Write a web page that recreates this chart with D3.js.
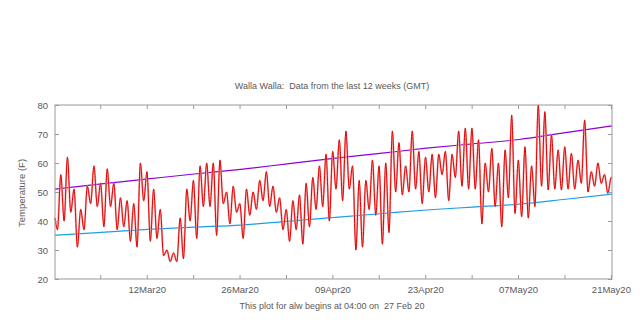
<!DOCTYPE html>
<html><head><meta charset="utf-8">
<script src="https://cdn.jsdelivr.net/npm/d3@7/dist/d3.min.js"></script>
<style>
html,body{margin:0;padding:0;background:#fff;}
svg text{font-family:"Liberation Sans",Arial,sans-serif;fill:#5a5a5a;white-space:pre;}
</style></head>
<body>
<svg id="c" width="640" height="333"></svg>
<script>
// ---- data ----
const titleText = "Walla Walla:  Data from the last 12 weeks (GMT)";
const footText = "This plot for alw begins at 04:00 on  27 Feb 20";
const yLabel = "Temperature (F)";
const yTicks = [20, 30, 40, 50, 60, 70, 80];
const xTickLabels = ["12Mar20", "26Mar20", "09Apr20", "23Apr20", "07May20", "21May20"];
const firstReading = 41;
// [overnight low (~13 GMT), afternoon high (~01 GMT next)] per day from 27 Feb
const dailyLowHigh = [
  [37,56],[40,62],[43,51],[31,44],[37,52],[46,59],[45,53],[38,58],[45,53],[37,48],
  [38,47],[33,46],[31,60],[47,57],[33,51],[34,44],[28,30],[26,29],[26,41],[27,51],
  [40,54],[34,59],[45,60],[45,60],[35,61],[46,50],[39,52],[43,46],[34,51],[42,50],
  [44,54],[47,57],[45,52],[43,48],[37,44],[33,47],[37,49],[32,53],[38,55],[44,59],
  [45,63],[40,64],[51,68],[47,71],[51,59],[30,54],[31,54],[44,61],[42,59],[32,60],
  [36,71],[50,67],[49,59],[50,71],[51,64],[46,62],[50,63],[48,63],[56,64],[47,63],
  [55,71],[52,72],[51,72],[51,68],[39,60],[50,65],[45,60],[38,64.5],[48,76.5],[42.6,61],
  [41.5,65.6],[41,59],[45,80],[52,77.7],[50.7,69.7],[51,64.5],[50.7,65.6],[51,63.3],[51,61],[53,74.8],
  [50,57],[52,60],[53,56],[49.5,55]
];
const lastReading = 55;
// weekly normals from 27 Feb
const normalHigh = [51.0, 52.8, 54.5, 56.2, 57.8, 59.7, 61.6, 63.3, 65.1, 66.6, 68.1, 70.5, 72.8];
const normalLow  = [35.1, 36.1, 37.1, 37.9, 38.6, 39.9, 41.2, 42.5, 43.8, 44.8, 45.8, 47.5, 49.3];

// ---- build ----
const start = new Date(Date.UTC(2020, 1, 27, 4, 0));
const end = new Date(Date.UTC(2020, 4, 21, 4, 0));
const H = 3600 * 1000;
const series = [{t: start, v: firstReading}];
dailyLowHigh.forEach((p, d) => {
  series.push({t: new Date(+start + (d * 24 + 9) * H), v: p[0]});
  series.push({t: new Date(+start + (d * 24 + 21) * H), v: p[1]});
});
series.push({t: end, v: lastReading});
const nh = normalHigh.map((v, i) => ({t: new Date(+start + i * 7 * 24 * H), v}));
const nl = normalLow.map((v, i) => ({t: new Date(+start + i * 7 * 24 * H), v}));

const L = 55, R = 612, T = 105, B = 279;
const svg = d3.select("#c");
const x = d3.scaleUtc().domain([start, end]).range([L, R]);
const y = d3.scaleLinear().domain([20, 80]).range([B, T]);

const smooth = d3.line().x(d => x(d.t)).y(d => y(d.v)).curve(d3.curveMonotoneX);

const g = svg.append("g");
// normals
g.append("path").datum(nh).attr("d", smooth).attr("fill", "none").attr("stroke", "#8f00d6").attr("stroke-width", 1.2);
g.append("path").datum(nl).attr("d", smooth).attr("fill", "none").attr("stroke", "#1a9fe6").attr("stroke-width", 1.2);
// temps
g.append("path").datum(series).attr("d", smooth).attr("fill", "none").attr("stroke", "#f5b0b0").attr("stroke-width", 2.0);
g.append("path").datum(series).attr("d", smooth).attr("fill", "none").attr("stroke", "#e30000").attr("stroke-width", 1.0);

// axes
const xt = d3.utcThursday.range(d3.utcDay.ceil(start), new Date(+end + 1));
const fmt = d3.utcFormat("%d%b%y");
const axB = d3.axisBottom(x).tickValues(xt).tickSize(-4).tickPadding(7)
  .tickFormat(d => xTickLabels.includes(fmt(d)) ? fmt(d) : "");
const axT = d3.axisTop(x).tickValues(xt).tickSize(-4).tickFormat("");
const axL = d3.axisLeft(y).tickValues(yTicks).tickSize(-4).tickPadding(7);
const axR = d3.axisRight(y).tickValues(yTicks).tickSize(-4).tickFormat("");
function style(sel) {
  sel.select(".domain").remove();
  sel.selectAll(".tick line").attr("stroke", "#999");
  sel.selectAll(".tick text").style("font-size", "9.5px").style("fill", "#5a5a5a").attr("font-family", null);
}
svg.append("g").attr("transform", `translate(0,${B})`).call(axB).call(style);
svg.append("g").attr("transform", `translate(0,${T})`).call(axT).call(style);
svg.append("g").attr("transform", `translate(${L},0)`).call(axL).call(style);
svg.append("g").attr("transform", `translate(${R},0)`).call(axR).call(style);
svg.append("rect").attr("x", L).attr("y", T).attr("width", R - L).attr("height", B - T)
  .attr("fill", "none").attr("stroke", "#999").attr("stroke-width", 1);

svg.append("text").attr("x", 332).attr("y", 89).attr("text-anchor", "middle").style("font-size", "9px").text(titleText);
svg.append("text").attr("x", 332).attr("y", 309).attr("text-anchor", "middle").style("font-size", "9px").text(footText);
svg.append("text").attr("transform", "translate(25,193) rotate(-90)").attr("text-anchor", "middle").style("font-size", "9.5px").text(yLabel);
</script>
</body></html>
